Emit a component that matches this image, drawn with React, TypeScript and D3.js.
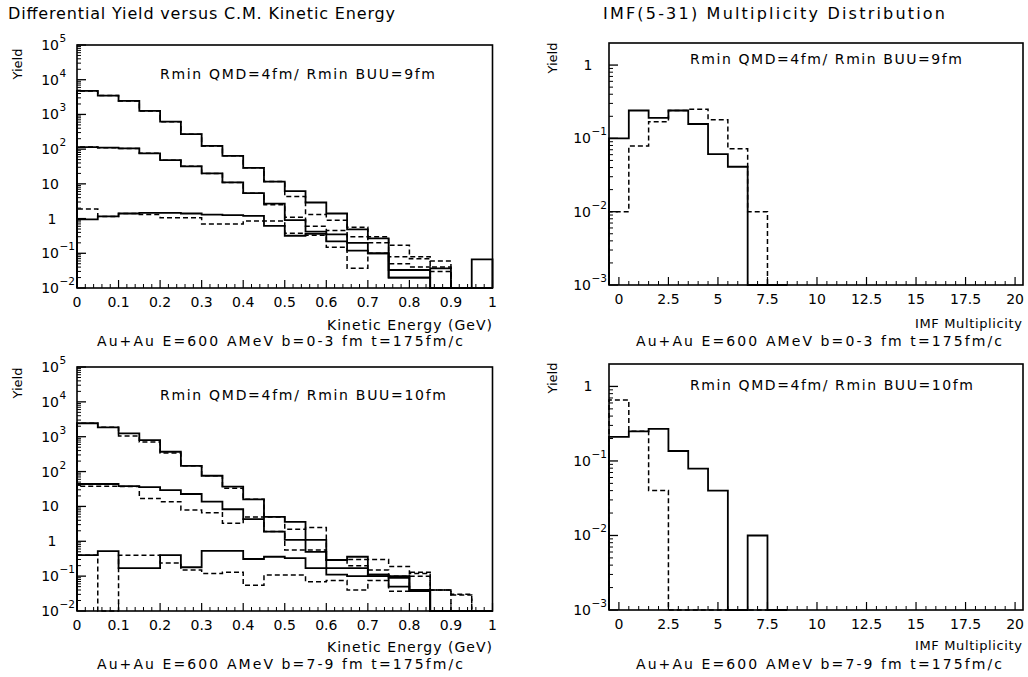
import React from "react";
import * as d3 from "d3";

// ---------------- data ----------------
// Kinetic energy bins (GeV), lower edges, width 0.05
const keBinLow = [0, 0.05, 0.1, 0.15, 0.2, 0.25, 0.3, 0.35, 0.4, 0.45, 0.5, 0.55, 0.6, 0.65, 0.7, 0.75, 0.8, 0.85, 0.9, 0.95];
const keBinWidth = 0.05;

// b = 0-3 fm, upper / middle / lower groups, solid and dashed
const keB03UpperSolid = [4750, 3500, 2450, 1260, 620, 270, 124, 64, 29, 11.6, 6.2, 2.9, 1.4, 0.49, 0.27, 0.02, 0.02, 0.037, 0, 0.067];
const keB03UpperDashed = [4750, 3500, 2450, 1260, 620, 270, 124, 64, 29, 11.6, 4.3, 1.3, 0.9, 0.56, 0.3, 0.17, 0.08, 0.06, 0, 0];
const keB03MiddleSolid = [115, 110, 105, 76, 48, 32, 20, 11, 5.4, 2.7, 0.9, 0.42, 0.35, 0.2, 0.1, 0.033, 0.033, 0, 0, 0];
const keB03MiddleDashed = [115, 110, 105, 76, 48, 32, 20, 11, 5.4, 2.5, 1.1, 0.6, 0.45, 0.3, 0.2, 0.08, 0.07, 0.04, 0, 0];
const keB03LowerSolid = [0.95, 1.15, 1.4, 1.45, 1.45, 1.4, 1.3, 1.25, 1.2, 0.62, 0.32, 0.36, 0.22, 0.12, 0.1, 0.02, 0.02, 0, 0, 0];
const keB03LowerDashed = [1.9, 1.15, 1.4, 1.3, 1.05, 1.05, 0.7, 0.7, 0.85, 0.85, 0.38, 0.33, 0.15, 0.037, 0.1, 0.05, 0.04, 0.03, 0, 0];

// b = 7-9 fm
const keB79UpperSolid = [2430, 1860, 1250, 800, 370, 146, 76, 37, 16, 5.0, 3.6, 1.1, 0.29, 0.36, 0.11, 0.1, 0.04, 0, 0, 0];
const keB79UpperDashed = [2430, 1860, 1050, 700, 340, 146, 76, 33, 16, 5.0, 2.2, 2.5, 0.29, 0.3, 0.3, 0.19, 0.12, 0.04, 0.03, 0];
const keB79MiddleSolid = [44, 44, 38, 36, 29.5, 22.7, 13.7, 8.3, 4.3, 1.9, 1.1, 0.5, 0.17, 0.17, 0.1, 0.05, 0.037, 0, 0, 0];
const keB79MiddleDashed = [38, 38, 37, 17, 13.7, 7.9, 6.6, 3.3, 5.0, 1.9, 0.56, 0.56, 0.29, 0.2, 0.15, 0.1, 0.1, 0.04, 0, 0];
const keB79LowerSolid = [0.4, 0.52, 0.17, 0.17, 0.4, 0.18, 0.53, 0.53, 0.31, 0.36, 0.33, 0.17, 0.11, 0.1, 0.11, 0.09, 0.037, 0, 0, 0];
const keB79LowerDashed = [0.4, 0, 0.4, 0.4, 0.24, 0.15, 0.12, 0.13, 0.055, 0.108, 0.108, 0.069, 0.075, 0.04, 0.075, 0.037, 0.13, 0.04, 0.029, 0];

// IMF multiplicity bins (centres, width 1)
const imfBinCentre = [0, 1, 2, 3, 4, 5, 6, 7, 8];
const imfB03Solid = [0.1, 0.24, 0.19, 0.24, 0.157, 0.061, 0.041, 0, 0];
const imfB03Dashed = [0.01, 0.079, 0.169, 0.24, 0.25, 0.18, 0.072, 0.01, 0];
const imfB79Solid = [0.21, 0.25, 0.27, 0.136, 0.079, 0.04, 0, 0.01, 0];
const imfB79Dashed = [0.66, 0.25, 0.04, 0, 0, 0, 0, 0, 0];

// axis tick labels
const keTickValues = [0, 0.1, 0.2, 0.3, 0.4, 0.5, 0.6, 0.7, 0.8, 0.9, 1];
const keTickLabels = ["0", "0.1", "0.2", "0.3", "0.4", "0.5", "0.6", "0.7", "0.8", "0.9", "1"];
const imfTickValues = [0, 2.5, 5, 7.5, 10, 12.5, 15, 17.5, 20];
const imfTickLabels = ["0", "2.5", "5", "7.5", "10", "12.5", "15", "17.5", "20"];
const keDecades = [-2, -1, 0, 1, 2, 3, 4, 5];
const imfDecades = [-3, -2, -1, 0];

const FONT = "DejaVu Sans";

type Series = { values: number[]; dashed: boolean };

function histPath(lows: number[], width: number, vals: number[], xs: any, ys: any, yMin: number) {
  const yb = ys(yMin);
  let d = `M${xs(lows[0])},${yb}`;
  vals.forEach((v, i) => {
    const y = ys(Math.max(v, yMin));
    d += `V${y}H${xs(lows[i] + width)}`;
  });
  d += `V${yb}`;
  return d;
}

function YLabel({ e, tickY, xEnd, oneX }: { e: number; tickY: number; xEnd: number; oneX: number }) {
  if (e === 0)
    return (
      <text x={oneX} y={tickY + 5} textAnchor="middle" fontSize={14}>
        1
      </text>
    );
  if (e === 1)
    return (
      <text x={xEnd} y={tickY + 5} textAnchor="end" fontSize={14}>
        10
      </text>
    );
  return (
    <g>
      <text x={xEnd} y={tickY + 5} textAnchor="end" fontSize={14}>
        10
      </text>
      <text x={xEnd + 0.5} y={tickY - 3} fontSize={10.5}>
        {e < 0 ? `\u2212${-e}` : `${e}`}
      </text>
    </g>
  );
}

function Panel(props: {
  x0: number; x1: number; y0: number; y1: number;
  xDomain: [number, number]; yDomain: [number, number];
  lows: number[]; width: number; series: Series[];
  majorX: number[]; majorXLabels: string[]; minorStep: number; minorMax: number;
  decades: number[]; labelXEnd: number; oneX: number;
}) {
  const { x0, x1, y0, y1, xDomain, yDomain, lows, width, series } = props;
  const xs = d3.scaleLinear().domain(xDomain).range([x0, x1]);
  const ys = d3.scaleLog().domain(yDomain).range([y1, y0]);
  const minorX = d3.range(0, props.minorMax + 1e-9, props.minorStep).filter(
    (v) => !props.majorX.some((m) => Math.abs(m - v) < 1e-6)
  );
  const minorY: number[] = [];
  props.decades.forEach((e) => {
    for (let k = 2; k <= 9; k++) {
      const v = k * Math.pow(10, e);
      if (v > yDomain[0] && v < yDomain[1] * 0.999) minorY.push(v);
    }
  });
  return (
    <g>
      {series.map((s, i) => (
        <path
          key={i}
          d={histPath(lows, width, s.values, xs, ys, yDomain[0])}
          fill="none"
          stroke="#000"
          strokeWidth={s.dashed ? 1.5 : 1.8}
          strokeDasharray={s.dashed ? "5,3" : undefined}
        />
      ))}
      {props.majorX.map((v, i) => (
        <g key={"mx" + i}>
          <line x1={xs(v)} x2={xs(v)} y1={y1} y2={y1 - 8} stroke="#000" strokeWidth={1.2} />
          <text x={xs(v)} y={y1 + 19} textAnchor="middle" fontSize={14}>
            {props.majorXLabels[i]}
          </text>
        </g>
      ))}
      {minorX.map((v, i) => (
        <line key={"nx" + i} x1={xs(v)} x2={xs(v)} y1={y1} y2={y1 - 4} stroke="#000" strokeWidth={1} />
      ))}
      {props.decades.map((e) => {
        const ty = ys(Math.pow(10, e));
        return (
          <g key={"my" + e}>
            <line x1={x0} x2={x0 + 9} y1={ty} y2={ty} stroke="#000" strokeWidth={1.3} />
            <YLabel e={e} tickY={ty} xEnd={props.labelXEnd} oneX={props.oneX} />
          </g>
        );
      })}
      {minorY.map((v, i) => (
        <line key={"ny" + i} x1={x0} x2={x0 + 4} y1={ys(v)} y2={ys(v)} stroke="#000" strokeWidth={1} />
      ))}
      <rect x={x0} y={y0} width={x1 - x0} height={y1 - y0} fill="none" stroke="#000" strokeWidth={1.6} />
    </g>
  );
}

export default function App() {
  const keLeft = { x0: 77, x1: 492.5 };
  const imfRight = { x0: 609, x1: 1023 };
  const keCommon = {
    xDomain: [0, 1] as [number, number],
    yDomain: [0.01, 100000] as [number, number],
    lows: keBinLow, width: keBinWidth,
    majorX: keTickValues, majorXLabels: keTickLabels, minorStep: 0.02, minorMax: 1,
    decades: keDecades, labelXEnd: 59, oneX: 52,
  };
  const imfLows = imfBinCentre.map((c) => c - 0.5);
  const imfCommon = {
    xDomain: [-0.5, 20.4] as [number, number],
    yDomain: [0.001, 2] as [number, number],
    lows: imfLows, width: 1,
    majorX: imfTickValues, majorXLabels: imfTickLabels, minorStep: 0.5, minorMax: 20,
    decades: imfDecades, labelXEnd: 591, oneX: 588,
  };
  return (
    <svg width={1028} height={677} style={{ display: "block", position: "absolute", left: 0, top: 0, background: "#fff" }} fontFamily={FONT}>
      <rect x={0} y={0} width={1028} height={677} fill="#fff" />
      <text x={8} y={19} fontSize={16} textLength={387} lengthAdjust="spacing">Differential Yield versus C.M. Kinetic Energy</text>
      <text x={603} y={19} fontSize={16} textLength={342} lengthAdjust="spacing">IMF(5-31) Multiplicity Distribution</text>

      {/* top left */}
      <Panel {...keLeft} y0={45} y1={288} {...keCommon}
        series={[
          { values: keB03UpperDashed, dashed: true },
          { values: keB03MiddleDashed, dashed: true },
          { values: keB03LowerDashed, dashed: true },
          { values: keB03UpperSolid, dashed: false },
          { values: keB03MiddleSolid, dashed: false },
          { values: keB03LowerSolid, dashed: false },
        ]} />
      {/* bottom left */}
      <Panel {...keLeft} y0={367} y1={611} {...keCommon}
        series={[
          { values: keB79UpperDashed, dashed: true },
          { values: keB79MiddleDashed, dashed: true },
          { values: keB79LowerDashed, dashed: true },
          { values: keB79UpperSolid, dashed: false },
          { values: keB79MiddleSolid, dashed: false },
          { values: keB79LowerSolid, dashed: false },
        ]} />
      {/* top right */}
      <Panel {...imfRight} y0={43} y1={285} {...imfCommon}
        series={[
          { values: imfB03Dashed, dashed: true },
          { values: imfB03Solid, dashed: false },
        ]} />
      {/* bottom right */}
      <Panel {...imfRight} y0={364} y1={610} {...imfCommon}
        series={[
          { values: imfB79Dashed, dashed: true },
          { values: imfB79Solid, dashed: false },
        ]} />

      {/* Yield labels */}
      <text transform="translate(22,64) rotate(-90)" textAnchor="middle" fontSize={13}>Yield</text>
      <text transform="translate(22,383) rotate(-90)" textAnchor="middle" fontSize={13}>Yield</text>
      <text transform="translate(557,58) rotate(-90)" textAnchor="middle" fontSize={13}>Yield</text>
      <text transform="translate(557,378) rotate(-90)" textAnchor="middle" fontSize={13}>Yield</text>

      {/* annotations */}
      <text x={160} y={79} fontSize={14} textLength={275} lengthAdjust="spacing">Rmin QMD=4fm/ Rmin BUU=9fm</text>
      <text x={690} y={64} fontSize={14} textLength={272} lengthAdjust="spacing">Rmin QMD=4fm/ Rmin BUU=9fm</text>
      <text x={160} y={400} fontSize={14} textLength={286} lengthAdjust="spacing">Rmin QMD=4fm/ Rmin BUU=10fm</text>
      <text x={690} y={390} fontSize={14} textLength={283} lengthAdjust="spacing">Rmin QMD=4fm/ Rmin BUU=10fm</text>

      {/* axis titles */}
      <text x={492} y={330} textAnchor="end" fontSize={14} textLength={165} lengthAdjust="spacing">Kinetic Energy (GeV)</text>
      <text x={492} y={652} textAnchor="end" fontSize={14} textLength={165} lengthAdjust="spacing">Kinetic Energy (GeV)</text>
      <text x={1022} y={328} textAnchor="end" fontSize={13} textLength={107} lengthAdjust="spacing">IMF Multiplicity</text>
      <text x={1022} y={650} textAnchor="end" fontSize={13} textLength={107} lengthAdjust="spacing">IMF Multiplicity</text>

      {/* run info */}
      <text x={97} y={346} fontSize={14} textLength={366} lengthAdjust="spacing">Au+Au E=600 AMeV b=0-3 fm t=175fm/c</text>
      <text x={97} y={669} fontSize={14} textLength={366} lengthAdjust="spacing">Au+Au E=600 AMeV b=7-9 fm t=175fm/c</text>
      <text x={636} y={346} fontSize={14} textLength={366} lengthAdjust="spacing">Au+Au E=600 AMeV b=0-3 fm t=175fm/c</text>
      <text x={636} y={669} fontSize={14} textLength={366} lengthAdjust="spacing">Au+Au E=600 AMeV b=7-9 fm t=175fm/c</text>
    </svg>
  );
}
